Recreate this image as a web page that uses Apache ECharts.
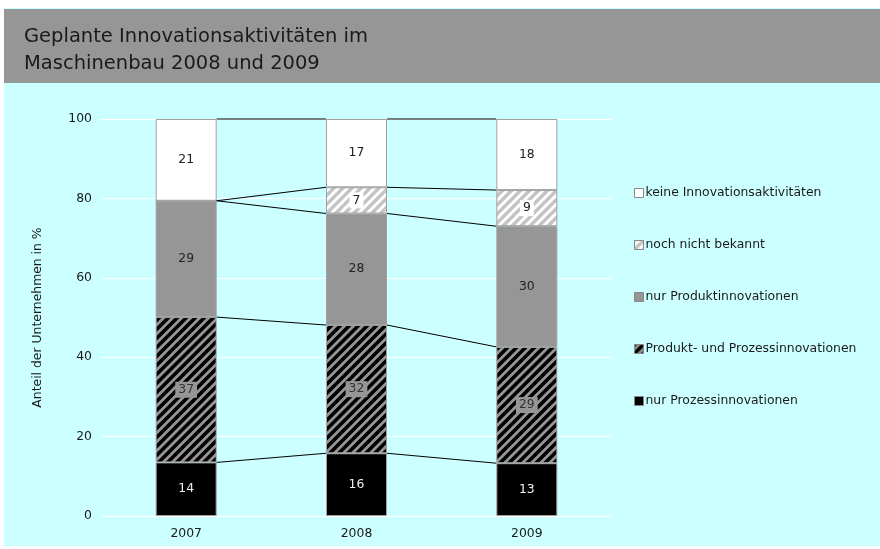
<!DOCTYPE html>
<html>
<head>
<meta charset="utf-8">
<script src="https://cdn.jsdelivr.net/npm/echarts@6/dist/echarts.min.js"></script>
<style>html,body{margin:0;padding:0;background:#fff;}#c{width:880px;height:549px;}</style>
</head>
<body>
<div id="c"></div>
<script>
// ---- data ----
var categories = ['2007', '2008', '2009'];
var seriesNames = ['nur Prozessinnovationen', 'Produkt- und Prozessinnovationen', 'nur Produktinnovationen', 'noch nicht bekannt', 'keine Innovationsaktivitäten'];
var nurProzess = [13.5, 15.8, 13.3];
var produktUndProzess = [36.6, 32.3, 29.3];
var nurProdukt = [29.3, 28.1, 30.4];
var nochNichtBekannt = [0, 6.6, 9.1];
var keineInnovation = [20.6, 17.2, 17.9];
var yTicks = [0, 20, 40, 60, 80, 100];
var legendOrder = ['keine Innovationsaktivitäten', 'noch nicht bekannt', 'nur Produktinnovationen', 'Produkt- und Prozessinnovationen', 'nur Prozessinnovationen'];

var BAR_W = 61;
var FS = 12.4;

function hatch(bg, fg, lw, n) {
  var c = document.createElement('canvas');
  c.width = n; c.height = n;
  var g = c.getContext('2d');
  g.fillStyle = bg; g.fillRect(0, 0, n, n);
  g.strokeStyle = fg; g.lineWidth = lw;
  g.beginPath();
  g.moveTo(-2, n + 2); g.lineTo(n + 2, -2);
  g.moveTo(-2, 2); g.lineTo(2, -2);
  g.moveTo(n - 2, n + 2); g.lineTo(n + 2, n - 2);
  g.stroke();
  return c;
}
var blackHatch = hatch('#969696', '#000000', 3.6, 9);
var whiteHatch = hatch('#ffffff', '#c4c4c4', 3.4, 9);

var allValues = [nurProzess, produktUndProzess, nurProdukt, nochNichtBekannt, keineInnovation];
var fills = [
  '#000000',
  {image: blackHatch, repeat: 'repeat'},
  '#969696',
  {image: whiteHatch, repeat: 'repeat'},
  '#ffffff'
];
var labelStyles = [
  {color: '#f0f0f0'},
  {color: '#333', backgroundColor: '#969696', padding: [2, 3]},
  {color: '#222'},
  {color: '#222', backgroundColor: '#ffffff', padding: [2, 3]},
  {color: '#222'}
];

// cumulative levels for series lines
var links = [];
for (var i = 0; i < categories.length - 1; i++) {
  var c0 = 0, c1 = 0;
  for (var k = 0; k < allValues.length; k++) {
    c0 += allValues[k][i];
    c1 += allValues[k][i + 1];
    links.push([i, Math.round(c0 * 10) / 10, Math.round(c1 * 10) / 10]);
  }
}

var barSeries = allValues.map(function (vals, k) {
  return {
    name: seriesNames[k],
    type: 'bar',
    stack: 'total',
    barWidth: BAR_W,
    data: vals.map(function (v) { return {value: v, label: {show: v > 0}}; }),
    itemStyle: {color: fills[k], borderColor: '#a0a0a0', borderWidth: 1},
    label: Object.assign({
      show: true,
      position: 'inside',
      fontSize: FS,
      fontFamily: 'DejaVu Sans',
      formatter: function (p) { return String(Math.round(p.value)); }
    }, labelStyles[k]),
    emphasis: {disabled: true},
    animation: false
  };
});

var chart = echarts.init(document.getElementById('c'));
chart.setOption({
  backgroundColor: '#ffffff',
  animation: false,
  textStyle: {fontFamily: 'DejaVu Sans'},
  graphic: [
    {type: 'rect', z: -10, shape: {x: 4, y: 8, width: 876, height: 538}, style: {fill: '#ccffff'}},
    {type: 'rect', z: -9, shape: {x: 4, y: 9, width: 876, height: 74}, style: {fill: '#969696'}}
  ],
  title: {
    text: 'Geplante Innovationsaktivitäten im\nMaschinenbau 2008 und 2009',
    left: 19, top: 18,
    textStyle: {fontSize: 19.5, fontWeight: 'normal', color: '#1a1a1a', lineHeight: 27, fontFamily: 'DejaVu Sans'}
  },
  legend: {
    orient: 'vertical',
    left: 629, top: 181,
    itemWidth: 9, itemHeight: 9, itemGap: 38,
    icon: 'rect',
    data: legendOrder,
    itemStyle: {borderColor: '#888', borderWidth: 1},
    textStyle: {fontSize: FS, color: '#1a1a1a', lineHeight: 14, padding: [0, 0, 0, -3]},
    selectedMode: false
  },
  grid: {left: 101, right: 268, top: 119, bottom: 33},
  xAxis: {
    type: 'category',
    data: categories,
    axisLine: {show: false},
    axisTick: {show: false},
    axisLabel: {fontSize: FS, color: '#1a1a1a', margin: 12}
  },
  yAxis: {
    type: 'value',
    min: yTicks[0], max: yTicks[yTicks.length - 1], interval: yTicks[1] - yTicks[0],
    name: 'Anteil der Unternehmen in %',
    nameLocation: 'middle',
    nameGap: 57,
    nameTextStyle: {fontSize: FS, color: '#1a1a1a'},
    axisLine: {show: false},
    axisTick: {show: false},
    axisLabel: {fontSize: FS, color: '#1a1a1a', margin: 9},
    splitLine: {lineStyle: {color: '#ffffff', width: 1}}
  },
  series: barSeries.concat([{
    type: 'custom',
    name: 'lines',
    z: 5,
    silent: true,
    data: links,
    encode: {x: 0, y: [1, 2]},
    renderItem: function (params, api) {
      var i = api.value(0);
      var p0 = api.coord([i, api.value(1)]);
      var p1 = api.coord([i + 1, api.value(2)]);
      return {
        type: 'line',
        shape: {x1: p0[0] + BAR_W / 2, y1: p0[1], x2: p1[0] - BAR_W / 2, y2: p1[1]},
        style: {stroke: '#000', lineWidth: 1}
      };
    }
  }])
});
</script>
</body>
</html>
